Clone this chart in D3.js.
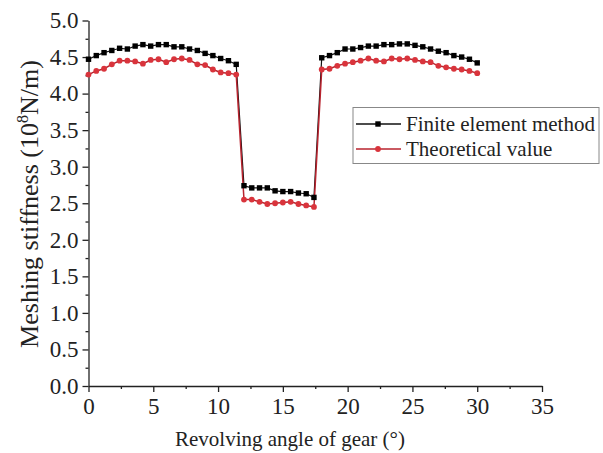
<!DOCTYPE html>
<html><head><meta charset="utf-8">
<script src="https://cdn.jsdelivr.net/npm/d3@7"></script>
<style>body{margin:0;background:#fff}svg{display:block}svg text{font-family:"Liberation Serif","Times New Roman",serif !important}</style>
</head><body>
<script>
const angles = d3.range(0, 51).map(i => +(i * 0.6).toFixed(1));
const femValues = [4.47,4.52,4.56,4.59,4.62,4.61,4.65,4.67,4.65,4.67,4.67,4.64,4.64,4.61,4.59,4.55,4.52,4.48,4.45,4.40,
  2.74,2.71,2.71,2.71,2.67,2.66,2.66,2.64,2.63,2.58,
  4.49,4.52,4.56,4.61,4.61,4.63,4.65,4.65,4.67,4.67,4.68,4.68,4.66,4.64,4.61,4.58,4.56,4.52,4.50,4.47,4.42];
const theoValues = [4.26,4.31,4.34,4.40,4.45,4.45,4.44,4.41,4.46,4.47,4.43,4.47,4.48,4.46,4.40,4.39,4.33,4.29,4.28,4.26,
  2.55,2.55,2.52,2.49,2.50,2.51,2.52,2.49,2.47,2.45,
  4.33,4.34,4.38,4.41,4.43,4.45,4.48,4.45,4.44,4.48,4.47,4.48,4.46,4.44,4.43,4.38,4.36,4.34,4.33,4.31,4.28];
const seriesNames = ["Finite element method", "Theoretical value"];
const xTicks = [0,5,10,15,20,25,30,35];
const yTicks = [0,0.5,1,1.5,2,2.5,3,3.5,4,4.5,5];

const W = 603, H = 453;
const FONT = "'Liberation Serif', 'Times New Roman', serif";
const svg = d3.select("body").append("svg").attr("width", W).attr("height", H);
const x = d3.scaleLinear().domain([0,35]).range([88.5,542]);
const y = d3.scaleLinear().domain([0,5]).range([386,20.5]);

// axes
const xAxis = svg.append("g").attr("transform", `translate(0,${y(0)})`)
  .call(d3.axisBottom(x).tickValues(xTicks).tickFormat(d3.format("d")).tickSize(6).tickSizeOuter(0));
svg.append("g").attr("transform", `translate(0,${y(0)})`)
  .call(d3.axisBottom(x).tickValues(d3.range(2.5,35,5)).tickFormat("").tickSize(3).tickSizeOuter(0))
  .select(".domain").remove();
const yAxis = svg.append("g").attr("transform", `translate(${x(0)},0)`)
  .call(d3.axisLeft(y).tickValues(yTicks).tickFormat(d3.format(".1f")).tickSize(6).tickSizeOuter(0));
svg.append("g").attr("transform", `translate(${x(0)},0)`)
  .call(d3.axisLeft(y).tickValues(d3.range(0.25,5,0.5)).tickFormat("").tickSize(3).tickSizeOuter(0))
  .select(".domain").remove();
svg.selectAll("g").attr("font-family", FONT);
svg.selectAll(".domain, .tick line").attr("stroke", "#222").attr("stroke-width", 1.3);
xAxis.selectAll("text").attr("font-size", 23).attr("fill", "#222").attr("dy", "0.82em");
yAxis.selectAll("text").attr("font-size", 23).attr("fill", "#222").attr("dx", "-1px");

// titles
svg.append("text").attr("x", 290).attr("y", 446).attr("text-anchor", "middle")
  .attr("font-size", 21).attr("fill", "#222").text("Revolving angle of gear (°)");
const yt = svg.append("text").attr("transform", `translate(38,${204}) rotate(-90)`)
  .attr("text-anchor", "middle").attr("font-size", 26).attr("fill", "#222");
yt.append("tspan").text("Meshing stiffness (10");
yt.append("tspan").attr("font-size", 16).attr("dy", -10).text("8");
yt.append("tspan").attr("dy", 10).text("N/m)");

// series
const line = d3.line().x(d => x(d[0])).y(d => y(d[1]));
const fem = angles.map((a,i) => [a, femValues[i]]);
const theo = angles.map((a,i) => [a, theoValues[i]]);
const redLine = "#b8232e", redDot = "#d9343c";

svg.append("path").datum(fem).attr("d", line).attr("fill","none").attr("stroke","#111").attr("stroke-width",1.2);
svg.append("path").datum(theo).attr("d", line).attr("fill","none").attr("stroke",redLine).attr("stroke-width",1.5);
svg.selectAll(".sq").data(fem).enter().append("rect")
  .attr("x", d => x(d[0]) - 2.7).attr("y", d => y(d[1]) - 2.7).attr("width", 5.4).attr("height", 5.4).attr("fill", "#000");
svg.selectAll(".ci").data(theo).enter().append("circle")
  .attr("cx", d => x(d[0])).attr("cy", d => y(d[1])).attr("r", 2.9).attr("fill", redDot);

// legend
const lg = svg.append("g");
lg.append("rect").attr("x", 353).attr("y", 107.5).attr("width", 246).attr("height", 56)
  .attr("fill", "#fff").attr("stroke", "#888").attr("stroke-width", 1);
const rows = [{n: seriesNames[0], c: "#111", m: "sq", yy: 124},{n: seriesNames[1], c: redLine, m: "ci", yy: 149}];
rows.forEach(r => {
  lg.append("line").attr("x1", 356).attr("x2", 401).attr("y1", r.yy).attr("y2", r.yy).attr("stroke", r.c).attr("stroke-width", 1.5);
  if (r.m === "sq") lg.append("rect").attr("x", 378-2.7).attr("y", r.yy-2.7).attr("width",5.4).attr("height",5.4).attr("fill","#000");
  else lg.append("circle").attr("cx", 378).attr("cy", r.yy).attr("r", 2.9).attr("fill", redDot);
  lg.append("text").attr("x", 406).attr("y", r.yy).attr("dy", "0.33em").attr("font-size", 21).attr("fill", "#222").text(r.n);
});
</script>
</body></html>
